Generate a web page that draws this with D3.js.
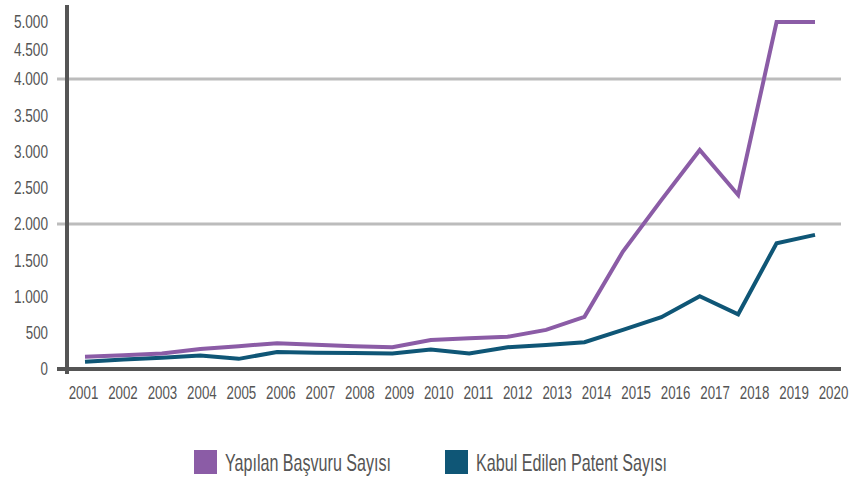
<!DOCTYPE html>
<html lang="tr">
<head>
<meta charset="UTF-8">
<title>Patent</title>
<script src="https://cdn.jsdelivr.net/npm/d3@7"></script>
<style>
    body { margin: 0; background: #fff; }
    text { font-family: "Liberation Sans", Arial, sans-serif; fill: #555; }
</style>
</head>
<body>
<div id="viz"></div>
<script>
    const years = d3.range(2001, 2021)
    const yTicks = [0, 500, 1000, 1500, 2000, 2500, 3000, 3500, 4000, 4500, 5000]
    const gridValues = [2000, 4000]
    const basvuru = [170, 190, 215, 275, 315, 355, 335, 315, 300, 400, 425, 445, 540, 720, 1620, 2330, 3020, 2400, 5000, 5000]
    const kabul = [100, 130, 155, 185, 140, 235, 225, 220, 215, 270, 215, 300, 330, 370, 540, 715, 1005, 755, 1735, 1850]
    const seriesNames = ["Yapılan Başvuru Sayısı", "Kabul Edilen Patent Sayısı"]
    const colors = ["#8b5ca6", "#0f5676"]

    const width = 850
    const height = 479

    const svg = d3.select("#viz").append("svg")
        .attr("width", width)
        .attr("height", height)

    // tick labels and data points are not quite on the same grid in the original
    const xLabel = d3.scalePoint().domain(years).range([83, 833])
    const xData = d3.scalePoint().domain(years).range([85, 815])
    // upper part of the axis is squeezed in the original
    const yScale = d3.scaleLinear()
        .domain([0, 4000, 4500, 5000])
        .range([369, 79, 50, 22])

    const locale = d3.formatLocale({decimal: ",", thousands: ".", grouping: [3], currency: ["", ""]})
    const fmt = locale.format(",")

    // the original font is very condensed, so squeeze the glyphs
    const condensedWidth = s => s.split("").reduce((w, c) => w + (c === "." ? 4.5 : 7.4), 0)

    // grid lines
    svg.selectAll(".grid")
        .data(gridValues)
        .enter()
        .append("line")
        .attr("x1", 57).attr("x2", 841)
        .attr("y1", d => yScale(d)).attr("y2", d => yScale(d))
        .attr("stroke", "#bcbcbc")
        .attr("stroke-width", 3)

    // axes
    const yAxis = svg.append("g")
        .attr("transform", "translate(48,0)")
        .call(d3.axisLeft(yScale).tickValues(yTicks).tickFormat(fmt).tickSize(0).tickPadding(0))
    yAxis.select(".domain").remove()
    yAxis.selectAll("text")
        .style("font-size", "18px")
        .attr("textLength", d => condensedWidth(fmt(d)))
        .attr("lengthAdjust", "spacingAndGlyphs")

    const xAxis = svg.append("g")
        .attr("transform", "translate(0,386)")
        .call(d3.axisBottom(xLabel).tickSize(0).tickPadding(0))
    xAxis.select(".domain").remove()
    xAxis.selectAll("text")
        .style("font-size", "18px")
        .attr("textLength", d => condensedWidth(String(d)))
        .attr("lengthAdjust", "spacingAndGlyphs")

    svg.append("line")
        .attr("x1", 67).attr("x2", 67)
        .attr("y1", 5).attr("y2", 374)
        .attr("stroke", "#555")
        .attr("stroke-width", 4)
    svg.append("line")
        .attr("x1", 57).attr("x2", 841)
        .attr("y1", yScale(0)).attr("y2", yScale(0))
        .attr("stroke", "#555")
        .attr("stroke-width", 4)

    // lines
    const lineGen = d3.line()
        .x((d, i) => xData(years[i]))
        .y(d => yScale(d))

    svg.selectAll(".series")
        .data([kabul, basvuru])
        .enter()
        .append("path")
        .attr("d", d => lineGen(d))
        .attr("fill", "none")
        .attr("stroke", (d, i) => i === 0 ? colors[1] : colors[0])
        .attr("stroke-width", 4)
        .attr("stroke-linejoin", "miter")

    // legend
    const legendX = [194, 445]
    const legendW = [166, 191]
    const legend = svg.selectAll(".legend")
        .data(seriesNames)
        .enter()
        .append("g")
        .attr("transform", (d, i) => `translate(${legendX[i]},450)`)
    legend.append("rect")
        .attr("width", 23).attr("height", 24)
        .attr("fill", (d, i) => colors[i])
    legend.append("text")
        .attr("x", 31).attr("y", 21)
        .attr("textLength", (d, i) => legendW[i])
        .attr("lengthAdjust", "spacingAndGlyphs")
        .style("font-size", "24px")
        .text(d => d)
</script>
</body>
</html>
